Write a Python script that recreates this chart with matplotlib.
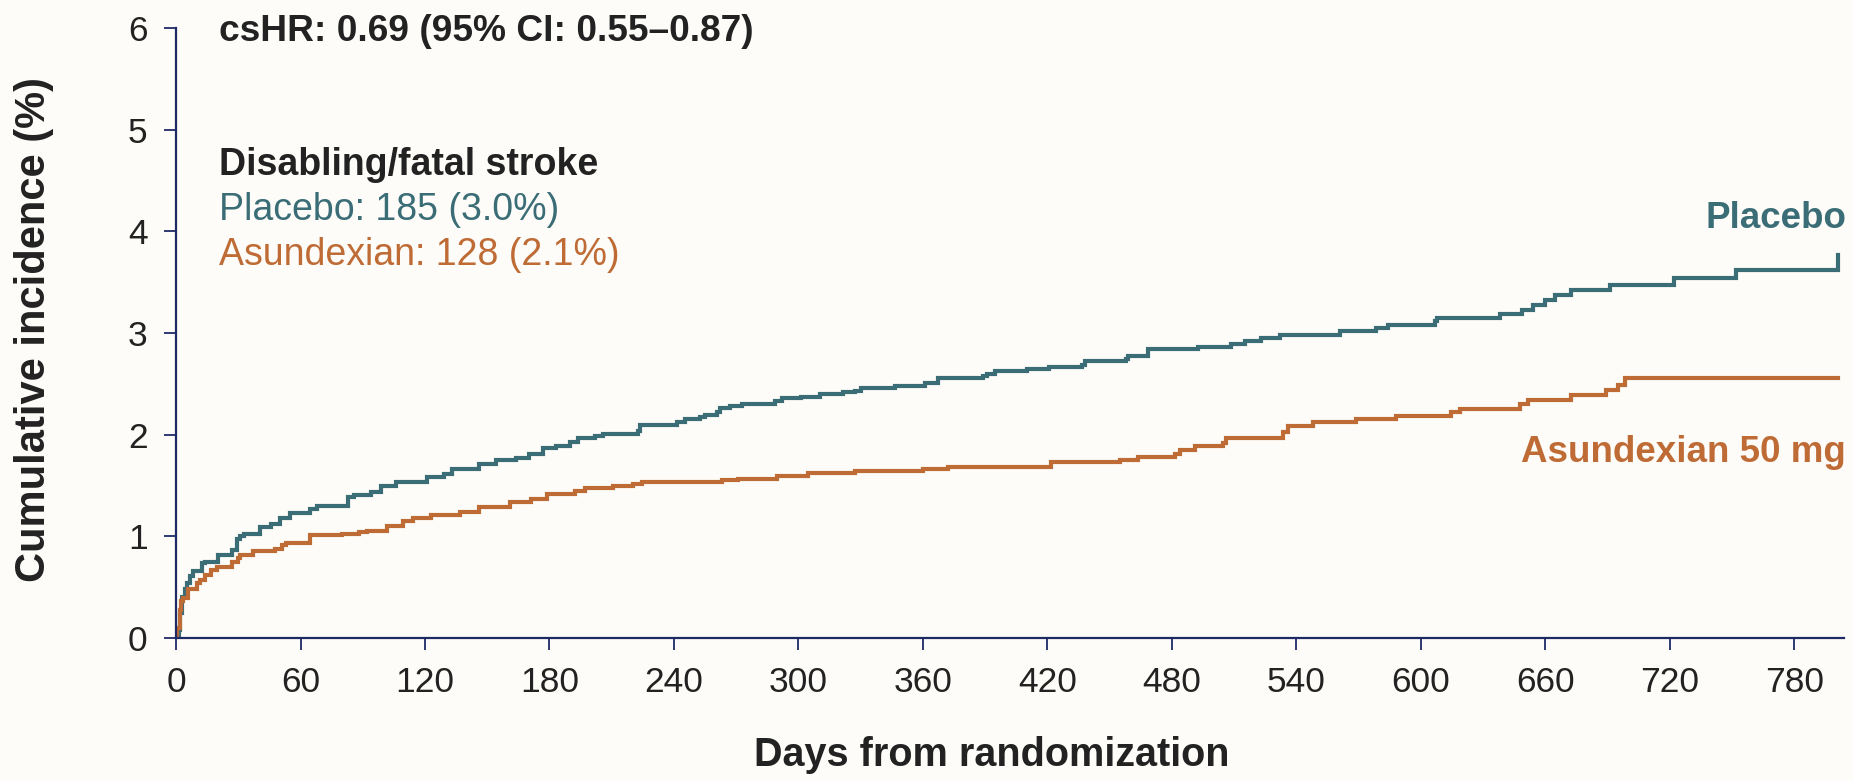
import matplotlib
matplotlib.use("Agg")
import matplotlib.pyplot as plt

plt.rcParams['font.family'] = ['Liberation Sans', 'DejaVu Sans']

# cumulative incidence (%) read per step, days from randomization
days_pbo = [0, 1.5, 2, 3, 4.3, 5.5, 6.7, 8, 12.4, 14, 20.4, 26.8, 29.2, 31, 33, 40.5, 46, 50, 55, 64.6,
            68, 83, 86, 94, 99, 106, 121, 129, 133, 146, 154, 164, 170, 177, 183, 190, 194, 202, 206, 222.8,
            223.6, 241.3, 245.3, 252.5, 255, 260.6, 262.2, 267, 272.6, 288.7, 291.9, 301.5, 310.3, 321.6,
            327.2, 330.4, 346.5, 361, 367.4, 389, 390.7, 394.7, 410, 421, 436.5, 438, 458, 459, 468.6, 492.6,
            508.7, 515.2, 523.2, 532, 561, 578.6, 584, 606.7, 608, 638, 649, 654, 660, 664.5, 672.6, 691,
            722, 752, 801]
inc_pbo = [0, 0.08, 0.25, 0.40, 0.48, 0.54, 0.61, 0.66, 0.74, 0.75, 0.82, 0.87, 0.97, 1.00, 1.02, 1.09,
           1.12, 1.18, 1.23, 1.27, 1.30, 1.39, 1.41, 1.44, 1.50, 1.53, 1.58, 1.61, 1.66, 1.71, 1.75, 1.77,
           1.81, 1.87, 1.89, 1.93, 1.97, 1.99, 2.01, 2.04, 2.10, 2.125, 2.15, 2.17, 2.19, 2.22, 2.26, 2.28,
           2.30, 2.33, 2.36, 2.37, 2.40, 2.42, 2.43, 2.455, 2.48, 2.505, 2.555, 2.58, 2.60, 2.63, 2.65, 2.67,
           2.69, 2.72, 2.74, 2.77, 2.84, 2.86, 2.89, 2.92, 2.95, 2.98, 3.02, 3.05, 3.08, 3.12, 3.15, 3.19,
           3.23, 3.28, 3.32, 3.37, 3.42, 3.47, 3.545, 3.62, 3.77]

days_asx = [0, 0.5, 1.9, 2.5, 3.5, 6, 10, 11.6, 14, 17, 19.6, 26.8, 30, 31, 37, 47.7, 51, 53, 64.6, 80,
            88, 92, 101.5, 109.6, 114, 123, 137, 146, 161, 171, 179, 192.3, 197, 210.7, 220.4, 224.4, 263,
            271, 289.5, 304.7, 327.2, 360.1, 372.2, 422, 455, 463.7, 481.4, 483.8, 491, 504.7, 506.3, 533.6,
            536, 548, 569, 588, 614.8, 618.8, 647.7, 651.7, 672.6, 689.4, 695, 698.3, 801]
inc_asx = [0, 0.10, 0.28, 0.36, 0.39, 0.48, 0.54, 0.57, 0.62, 0.67, 0.70, 0.75, 0.79, 0.82, 0.86, 0.88,
           0.91, 0.93, 1.01, 1.02, 1.04, 1.05, 1.10, 1.15, 1.18, 1.21, 1.24, 1.29, 1.34, 1.37, 1.42, 1.45,
           1.475, 1.50, 1.51, 1.53, 1.55, 1.565, 1.59, 1.62, 1.64, 1.66, 1.685, 1.73, 1.75, 1.785, 1.81,
           1.85, 1.89, 1.92, 1.97, 2.03, 2.085, 2.12, 2.15, 2.185, 2.22, 2.25, 2.30, 2.34, 2.39, 2.44, 2.49,
           2.555, 2.555]

x_ticks = list(range(0, 781, 60))
y_ticks = [0, 1, 2, 3, 4, 5, 6]

TEAL = '#3b6d77'
ORANGE = '#bf6b35'
INK = '#222222'
AXIS = '#1e2a66'
BG = '#fdfcf8'

fig = plt.figure(figsize=(18.53, 7.81), dpi=100, facecolor=BG)
ax = fig.add_axes([0.095, 0.1831, 0.9001, 0.781])
ax.set_facecolor(BG)

ax.step(days_pbo, inc_pbo, where='post', color=TEAL, lw=3.0, solid_joinstyle='miter')
ax.step(days_asx, inc_asx, where='post', color=ORANGE, lw=3.0, solid_joinstyle='miter')

ax.set_xlim(0, 804)
ax.set_ylim(0, 6)
ax.set_xticks(x_ticks)
ax.set_yticks(y_ticks)

for side in ('top', 'right'):
    ax.spines[side].set_visible(False)
for side in ('left', 'bottom'):
    ax.spines[side].set_color(AXIS)
    ax.spines[side].set_linewidth(1.6)
ax.tick_params(axis='both', length=8.5, width=1.3, color=AXIS, labelsize=25.5,
               labelcolor=INK, pad=12)

ax.set_xlabel('Days from randomization', fontsize=28.5, fontweight='bold', color=INK)
ax.xaxis.set_label_coords(0.489, -0.16)
ax.set_ylabel('Cumulative incidence (%)', fontsize=30, fontweight='bold', color=INK)
ax.yaxis.set_label_coords(-0.073, 0.505)

ax.text(20.7, 5.87, 'csHR: 0.69 (95% CI: 0.55\u20130.87)', fontsize=26.7, fontweight='bold',
        color=INK, va='baseline')
ax.text(20.7, 4.555, 'Disabling/fatal stroke', fontsize=27, fontweight='bold',
        color=INK, va='baseline')
ax.text(20.7, 4.115, 'Placebo: 185 (3.0%)', fontsize=27, color=TEAL, va='baseline')
ax.text(20.7, 3.665, 'Asundexian: 128 (2.1%)', fontsize=27, color=ORANGE, va='baseline')

ax.text(805, 4.03, 'Placebo', fontsize=26.5, fontweight='bold', color=TEAL,
        ha='right', va='baseline', clip_on=False)
ax.text(805, 1.73, 'Asundexian 50 mg', fontsize=26.5, fontweight='bold', color=ORANGE,
        ha='right', va='baseline', clip_on=False)

fig.savefig('out.png', dpi=100, facecolor=BG)
